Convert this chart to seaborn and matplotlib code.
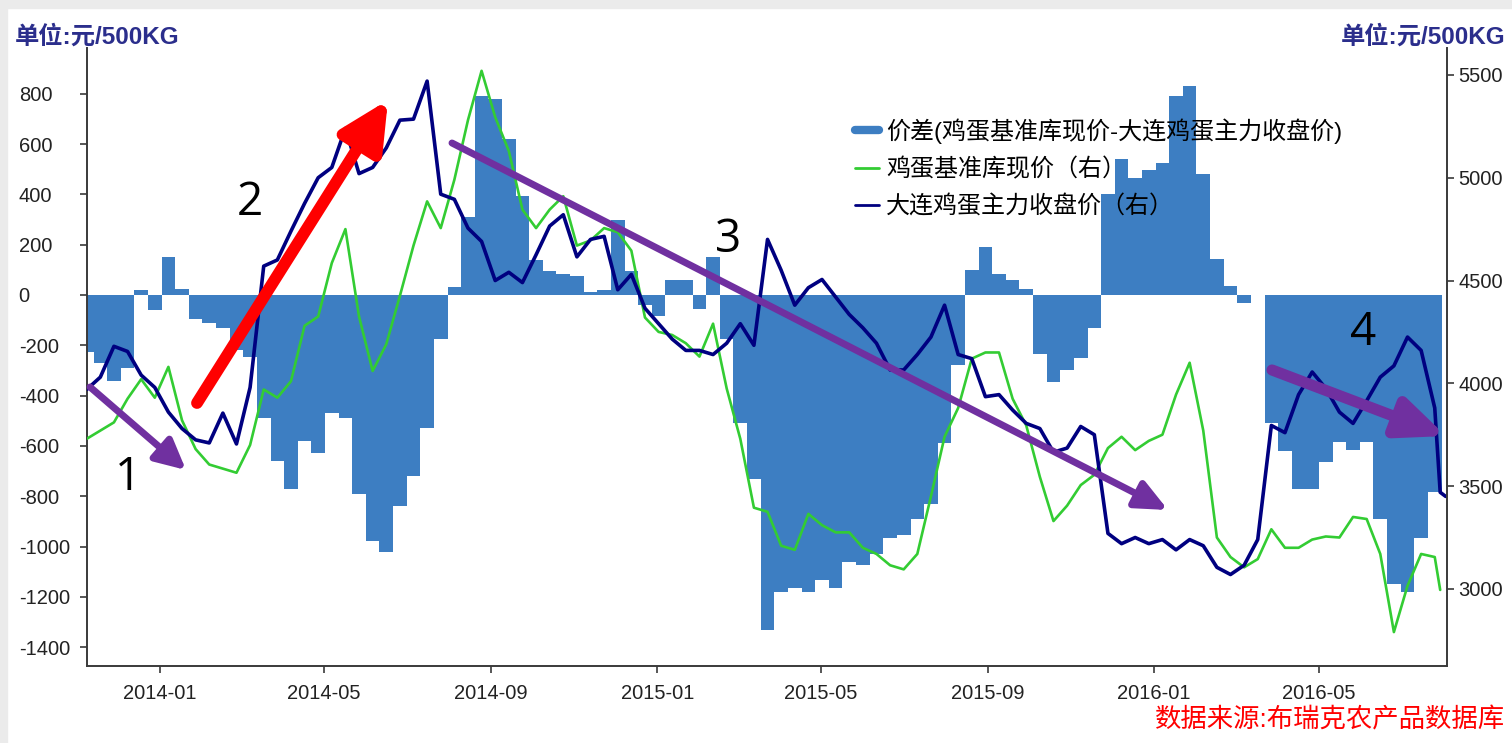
import matplotlib
matplotlib.use('Agg')
import matplotlib.pyplot as plt
import matplotlib.dates as mdates
from matplotlib.lines import Line2D
from matplotlib.patches import Rectangle
import numpy as np
import pandas as pd
import seaborn as sns

# sample dates: every 10 days from the first egg futures session, plus the last two sessions
dates = list(pd.date_range('2013-11-08', periods=100, freq='10D')) + \
    [pd.Timestamp('2016-07-29'), pd.Timestamp('2016-08-02')]

# 价差 (left axis)
spread = [
    -225, -270, -340, -290, 20, -60, 150, 25, -95, -110,
    -130, -220, -245, -490, -660, -770, -580, -630, -470, -490,
    -790, -980, -1020, -840, -720, -530, -175, 30, 310, 790,
    780, 620, 395, 140, 95, 83, 76, 10, 20, 300,
    97, -40, -85, 60, 60, -55, 150, -175, -510, -730,
    -1330, -1180, -1165, -1180, -1135, -1165, -1060, -1075, -1030, -965,
    -955, -890, -830, -590, -280, 100, 190, 85, 60, 25,
    -235, -345, -300, -250, -130, 400, 540, 465, 495, 525,
    790, 830, 480, 145, 35, -30, 0, -510, -620, -770,
    -770, -665, -585, -615, -585, -890, -1150, -1180, -965, -785,
    np.nan, np.nan,
]

# 鸡蛋基准库现价 (right axis)
spot = [
    3730, 3770, 3810, 3925, 4020, 3930, 4080, 3820, 3680, 3605,
    3585, 3565, 3700, 3970, 3930, 4010, 4280, 4325, 4585, 4750,
    4325, 4060, 4190, 4425, 4670, 4885, 4755, 4990, 5280, 5520,
    5295, 5130, 4845, 4755, 4845, 4910, 4670, 4695, 4755, 4735,
    4645, 4320, 4250, 4235, 4195, 4130, 4290, 3975, 3730, 3395,
    3375, 3210, 3190, 3365, 3310, 3275, 3275, 3200, 3170, 3115,
    3095, 3170, 3450, 3740, 3880, 4120, 4150, 4150, 3925, 3795,
    3545, 3330, 3405, 3505, 3555, 3685, 3740, 3675, 3720, 3750,
    3945, 4100, 3770, 3250, 3155, 3105, 3145, 3290, 3200, 3200,
    3240, 3255, 3250, 3350, 3340, 3170, 2790, 3015, 3170, 3155,
    2995, np.nan,
]

# 大连鸡蛋主力收盘价 (right axis)
futures = [
    3970, 4030, 4180, 4155, 4040, 3980, 3860, 3780, 3725, 3710,
    3855, 3705, 3980, 4570, 4600, 4740, 4875, 5000, 5050, 5240,
    5020, 5050, 5145, 5280, 5285, 5470, 4920, 4895, 4755, 4690,
    4500, 4540, 4490, 4625, 4765, 4820, 4615, 4700, 4715, 4455,
    4530, 4365, 4290, 4215, 4160, 4160, 4140, 4195, 4290, 4185,
    4700, 4550, 4380, 4465, 4505, 4420, 4335, 4270, 4195, 4065,
    4065, 4140, 4225, 4380, 4140, 4120, 3935, 3945, 3870, 3805,
    3780, 3665, 3685, 3790, 3750, 3270, 3220, 3250, 3220, 3240,
    3190, 3240, 3210, 3105, 3070, 3115, 3240, 3795, 3760, 3945,
    4055, 3975, 3860, 3805, 3915, 4030, 4085, 4225, 4160, 3880,
    3470, 3450,
]

xtick_dates = ['2014-01-01', '2014-05-01', '2014-09-01', '2015-01-01',
               '2015-05-01', '2015-09-01', '2016-01-01', '2016-05-01']
left_ticks = list(range(-1400, 801, 200))
right_ticks = list(range(3000, 5501, 500))
legend_labels = ['价差(鸡蛋基准库现价-大连鸡蛋主力收盘价)',
                 '鸡蛋基准库现价（右）',
                 '大连鸡蛋主力收盘价（右）']

BLUE = '#3D7EC2'
GREEN = '#33CC33'
NAVY = '#000080'
PURPLE = '#7030A0'

df = pd.DataFrame({'date': dates, 'spread': spread, 'spot': spot, 'futures': futures})

sns.set_theme(style='white')
plt.rcParams['font.family'] = ['Liberation Sans', 'Noto Sans CJK SC', 'DejaVu Sans']

W, H = 1512, 743
fig = plt.figure(figsize=(W / 100, H / 100), dpi=100)
fig.patch.set_facecolor('white')
fig.add_artist(Rectangle((0, 1 - 8 / H), 1, 8 / H, transform=fig.transFigure,
                         color='#EBEBEB', zorder=-5))
fig.add_artist(Rectangle((0, 0), 7 / W, 1, transform=fig.transFigure,
                         color='#EBEBEB', zorder=-5))

ax = fig.add_axes([86.7 / W, 1 - 666 / H, (1447 - 86.7) / W, (666 - 48) / H])
ax.set_facecolor('none')

ax.bar(df['date'], df['spread'], width=10, color=BLUE, linewidth=0, align='center')
ax.set_ylim(-1475, 982)

ax2 = ax.twinx()
sns.lineplot(data=df, x='date', y='spot', ax=ax2, color=GREEN, linewidth=1.9)
sns.lineplot(data=df, x='date', y='futures', ax=ax2, color=NAVY, linewidth=2.6)
ax2.set_ylim(2625, 5631)
ax.set_xlim(pd.Timestamp('2013-11-08'), pd.Timestamp('2016-08-03'))

for a in (ax, ax2):
    a.set_xlabel('')
    a.set_ylabel('')
    a.grid(False)
    a.spines['top'].set_visible(False)
    for s in a.spines.values():
        s.set_color('#3A3A3A')
        s.set_linewidth(1.4)
ax.spines['right'].set_visible(False)
ax2.spines['left'].set_visible(False)
ax2.spines['bottom'].set_visible(False)

ax.set_xticks([pd.Timestamp(d) for d in xtick_dates])
ax.xaxis.set_major_formatter(mdates.DateFormatter('%Y-%m'))
ax.set_yticks(left_ticks)
ax.set_yticklabels([str(v) for v in left_ticks], ha='left')
ax2.set_yticks(right_ticks)
ax2.set_yticklabels([str(v) for v in right_ticks])

ax.tick_params(axis='x', bottom=True, direction='out', length=5, width=1.2,
               color='#3A3A3A', labelsize=14.5, labelcolor='#222222', pad=8)
ax.tick_params(axis='y', left=True, direction='out', length=5, width=1.2,
               color='#3A3A3A', labelsize=14.5, labelcolor='#222222', pad=44)
ax2.tick_params(axis='y', right=True, direction='out', length=5, width=1.2,
                color='#3A3A3A', labelsize=14.5, labelcolor='#222222', pad=3)

handles = [Line2D([], [], color=BLUE, lw=6),
           Line2D([], [], color=GREEN, lw=2),
           Line2D([], [], color=NAVY, lw=2)]
leg = ax2.legend(handles, legend_labels, loc='upper left',
                 bbox_to_anchor=(855 / W, 1 - 118 / H), bbox_transform=fig.transFigure,
                 frameon=False, fontsize=17.3, handlelength=1.0, handletextpad=0.3,
                 labelspacing=0.6, borderaxespad=0, borderpad=0)
for t in leg.get_texts():
    t.set_color('black')

# unit labels and data source
fig.text(15 / W, 1 - 37 / H, '单位:元/500KG', color='#2B2E8C', fontsize=17.5,
         fontweight='bold', ha='left', va='center')
fig.text(1505 / W, 1 - 37 / H, '单位:元/500KG', color='#2B2E8C', fontsize=17.5,
         fontweight='bold', ha='right', va='center')
fig.text(1505 / W, 1 - 720 / H, '数据来源:布瑞克农产品数据库', color='red',
         fontsize=19, ha='right', va='center')


def fig_xy(px, py):
    return (px / W, 1 - py / H)


def arrow(tail, tip, color, lw, hl, hw):
    ax2.annotate('', xy=fig_xy(*tip), xytext=fig_xy(*tail),
                 xycoords='figure fraction', textcoords='figure fraction',
                 arrowprops=dict(arrowstyle=f'-|>,head_length={hl},head_width={hw}',
                                 color=color, lw=lw, mutation_scale=20,
                                 shrinkA=0, shrinkB=0))


arrow((90, 387), (186, 470), PURPLE, 5, 0.9, 0.45)
arrow((197, 403), (388, 100), 'red', 8.5, 1.45, 0.72)
arrow((452, 143), (1168, 510), PURPLE, 5, 0.95, 0.43)
arrow((1272, 370), (1446, 436), PURPLE, 8, 1.4, 0.6)

for label, (px, py) in zip(['1', '2', '3', '4'],
                           [(128, 478), (250, 203), (728, 240), (1363, 333)]):
    fig.text(*fig_xy(px, py), label, fontsize=33, family='Open Sans',
             color='black', ha='center', va='center')

fig.savefig('out.png', dpi=100)
